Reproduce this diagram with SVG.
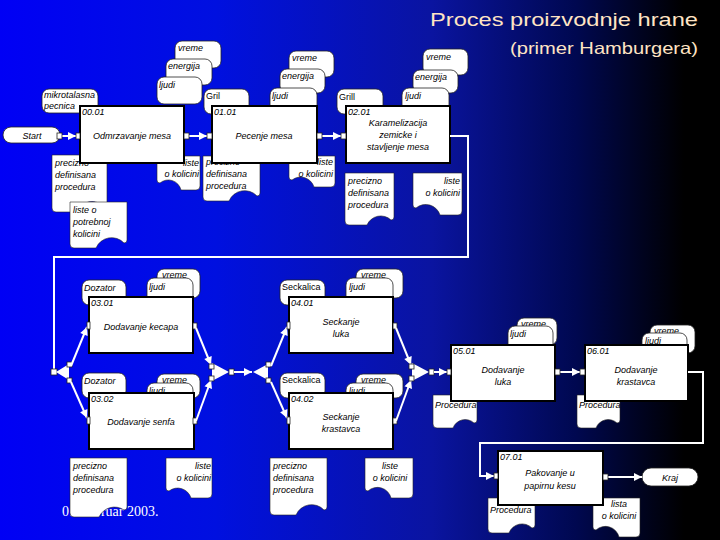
<svg xmlns="http://www.w3.org/2000/svg" width="720" height="540" viewBox="0 0 720 540">
<defs>
<linearGradient id="bg" x1="0" y1="0" x2="720" y2="0" gradientUnits="userSpaceOnUse">
<stop offset="0" stop-color="#0000f5"/>
<stop offset="0.3" stop-color="#0010e0"/>
<stop offset="0.6" stop-color="#0a14a0"/>
<stop offset="0.8" stop-color="#000850"/>
<stop offset="0.95" stop-color="#000000"/>
</linearGradient>
<marker id="arr" viewBox="0 0 10 10" refX="10" refY="5" markerWidth="9" markerHeight="8" markerUnits="userSpaceOnUse" orient="auto"><path d="M0,0 L10,5 L0,10 Z" fill="#fff"/></marker>
</defs>
<style>
.box{fill:#fff;stroke:#000;stroke-width:2}
.res{fill:#fff;stroke:#222;stroke-width:0.8}
.doc{fill:#fff;stroke:#222;stroke-width:0.6}
.term{fill:#fff;stroke:#222;stroke-width:0.8}
.t{font-family:"Liberation Sans",Arial,sans-serif;font-size:9px;font-style:italic;fill:#000}
.u{font-style:normal}
.m{text-anchor:middle}
.e{text-anchor:end}
.ln{fill:none;stroke:#fff;stroke-width:2}
.port{fill:#fff;stroke:#222;stroke-width:0.8}
.jn{fill:#fff;stroke:none}
.title{font-family:"Liberation Sans",Arial,sans-serif;fill:#ffe4c4}
</style>
<rect x="0" y="0" width="720" height="540" fill="url(#bg)"/>
<text class="title" x="430" y="26" font-size="19" textLength="268" lengthAdjust="spacingAndGlyphs">Proces proizvodnje hrane</text>
<text class="title" x="510" y="54" font-size="16.5" textLength="188" lengthAdjust="spacingAndGlyphs">(primer Hamburgera)</text>
<text x="62" y="516" font-family="'Liberation Serif','Times New Roman',serif" font-size="14" fill="#fff">01. februar 2003.</text>

<!-- resources row 1 -->
<g id="r-mikro"><rect class="res" x="42" y="89" width="56" height="24" rx="7"/><text class="t" x="44" y="98">mikrotalasna</text><text class="t" x="44" y="109">pecnica</text></g>
<g id="r-vreme1"><rect class="res" x="175" y="41" width="46" height="27" rx="7"/><text class="t" x="178" y="51">vreme</text></g>
<g id="r-energija1"><rect class="res" x="166" y="59" width="46" height="26" rx="7"/><text class="t" x="168" y="69">energija</text></g>
<g id="r-ljudi1"><rect class="res" x="157" y="77" width="45" height="27" rx="7"/><text class="t" x="159" y="88">ljudi</text></g>
<g id="r-gril1"><rect class="res" x="204" y="89" width="45" height="25" rx="7"/><text class="t u" x="206" y="99">Gril</text></g>
<g id="r-vreme2"><rect class="res" x="289" y="51" width="45" height="26" rx="7"/><text class="t" x="292" y="61">vreme</text></g>
<g id="r-energija2"><rect class="res" x="280" y="69" width="45" height="24" rx="7"/><text class="t" x="282" y="79">energija</text></g>
<g id="r-ljudi2"><rect class="res" x="270" y="88" width="47" height="25" rx="7"/><text class="t" x="272" y="99">ljudi</text></g>
<g id="r-gril2"><rect class="res" x="337" y="89" width="46" height="25" rx="7"/><text class="t u" x="339" y="100">Grill</text></g>
<g id="r-vreme3"><rect class="res" x="423" y="49" width="45" height="26" rx="7"/><text class="t" x="426" y="60">vreme</text></g>
<g id="r-energija3"><rect class="res" x="413" y="70" width="45" height="23" rx="7"/><text class="t" x="415" y="80">energija</text></g>
<g id="r-ljudi3"><rect class="res" x="402" y="88" width="47" height="25" rx="7"/><text class="t" x="405" y="99">ljudi</text></g>

<!-- resources row 2 -->
<g id="r-dozator1"><rect class="res" x="82" y="280" width="44" height="25" rx="7"/><text class="t" x="84" y="291">Dozator</text></g>
<g id="r-vreme4"><rect class="res" x="157" y="269" width="43" height="29" rx="7"/><text class="t" x="162" y="278">vreme</text></g>
<g id="r-ljudi4"><rect class="res" x="147" y="278" width="46" height="25" rx="7"/><text class="t" x="149" y="290">ljudi</text></g>
<g id="r-dozator2"><rect class="res" x="82" y="373" width="44" height="25" rx="7"/><text class="t" x="84" y="384">Dozator</text></g>
<g id="r-vreme5"><rect class="res" x="157" y="374" width="43" height="24" rx="7"/><text class="t" x="162" y="383">vreme</text></g>
<g id="r-ljudi5"><rect class="res" x="147" y="383" width="46" height="20" rx="7"/><text class="t" x="149" y="394">ljudi</text></g>
<g id="r-seckalica1"><rect class="res" x="280" y="280" width="45" height="25" rx="7"/><text class="t u" x="282" y="290">Seckalica</text></g>
<g id="r-vreme6"><rect class="res" x="356" y="269" width="47" height="29" rx="7"/><text class="t" x="361" y="278">vreme</text></g>
<g id="r-ljudi6"><rect class="res" x="346" y="278" width="47" height="25" rx="7"/><text class="t" x="349" y="290">ljudi</text></g>
<g id="r-seckalica2"><rect class="res" x="280" y="373" width="45" height="25" rx="7"/><text class="t u" x="282" y="383">Seckalica</text></g>
<g id="r-vreme7"><rect class="res" x="356" y="374" width="47" height="24" rx="7"/><text class="t" x="361" y="383">vreme</text></g>
<g id="r-ljudi7"><rect class="res" x="346" y="383" width="47" height="20" rx="7"/><text class="t" x="349" y="394">ljudi</text></g>
<g id="r-vreme8"><rect class="res" x="517" y="318" width="40" height="27" rx="7"/><text class="t" x="521" y="327">vreme</text></g>
<g id="r-ljudi8"><rect class="res" x="508" y="326" width="45" height="25" rx="7"/><text class="t" x="510" y="337">ljudi</text></g>
<g id="r-vreme9"><rect class="res" x="650" y="325" width="45" height="28" rx="7"/><text class="t" x="654" y="334">vreme</text></g>
<g id="r-ljudi9"><rect class="res" x="642" y="333" width="45" height="20" rx="7"/><text class="t" x="645" y="344">ljudi</text></g>

<!-- documents -->
<g id="d1"><path class="doc" d="M52,155 H107 V204 Q107,207 104,207 A16 16 0 0 0 77,212 H56 Q52,212 52,208 Z"/><text class="t" x="55" y="166">precizno</text><text class="t" x="55" y="178">definisana</text><text class="t" x="55" y="190">procedura</text></g>
<g id="d2"><path class="doc" d="M70,202 H127 V240 Q127,243 124,243 A17 17 0 0 0 96,248 H74 Q70,248 70,244 Z"/><text class="t" x="73" y="213">liste o</text><text class="t" x="73" y="225">potrebnoj</text><text class="t" x="73" y="237">kolicini</text></g>
<g id="d3"><path class="doc" d="M157,156 H200 V186 Q200,190 196,190 H181 A13 13 0 0 0 160,183 Q157,183 157,180 Z"/><text class="t e" x="199" y="166">liste</text><text class="t e" x="199" y="177">o kolicini</text></g>
<g id="d4"><path class="doc" d="M203,156 H260 V193 Q260,196 257,196 A17 17 0 0 0 229,201 H207 Q203,201 203,197 Z"/><text class="t" x="206" y="165">precizno</text><text class="t" x="206" y="177">definisana</text><text class="t" x="206" y="189">procedura</text></g>
<g id="d5"><path class="doc" d="M289,156 H335 V183 Q335,187 331,187 H314 A14 14 0 0 0 292,180 Q289,180 289,177 Z"/><text class="t e" x="333" y="165">liste</text><text class="t e" x="333" y="177">o kolicini</text></g>
<g id="d6"><path class="doc" d="M345,173 H394 V217 Q394,220 391,220 A15 15 0 0 0 367,225 H349 Q345,225 345,221 Z"/><text class="t" x="348" y="184">precizno</text><text class="t" x="348" y="196">definisana</text><text class="t" x="348" y="208">procedura</text></g>
<g id="d7"><path class="doc" d="M413,173 H462 V211 Q462,215 458,215 H440 A15 15 0 0 0 416,208 Q413,208 413,205 Z"/><text class="t e" x="460" y="184">liste</text><text class="t e" x="460" y="196">o kolicini</text></g>
<g id="d8"><path class="doc" d="M70,458 H127 V507 Q127,510 124,510 A17 17 0 0 0 99,517 H74 Q70,517 70,513 Z"/><text class="t" x="73" y="469">precizno</text><text class="t" x="73" y="481">definisana</text><text class="t" x="73" y="493">procedura</text></g>
<g id="d9"><path class="doc" d="M166,458 H212 V494 Q212,498 208,498 H191 A14 14 0 0 0 169,491 Q166,491 166,488 Z"/><text class="t e" x="211" y="469">liste</text><text class="t e" x="211" y="481">o kolicini</text></g>
<g id="d10"><path class="doc" d="M270,458 H327 V507 Q327,510 324,510 A17 17 0 0 0 296,515 H274 Q270,515 270,511 Z"/><text class="t" x="273" y="469">precizno</text><text class="t" x="273" y="481">definisana</text><text class="t" x="273" y="493">procedura</text></g>
<g id="d11"><path class="doc" d="M365,458 H413 V494 Q413,498 409,498 H391 A14 14 0 0 0 368,491 Q365,491 365,488 Z"/><text class="t m" x="390" y="469">liste</text><text class="t m" x="390" y="481">o kolicini</text></g>
<g id="d12"><path class="doc" d="M433,395 H477 V420 Q477,423 474,423 A13 13 0 0 0 453,428 H437 Q433,428 433,424 Z"/><text class="t" x="435" y="408">Procedura</text></g>
<g id="d13"><path class="doc" d="M577,395 H620 V420 Q620,423 617,423 A13 13 0 0 0 596,428 H581 Q577,428 577,424 Z"/><text class="t" x="579" y="408">Procedura</text></g>
<g id="d14"><path class="doc" d="M488,498 H535 V525 Q535,528 532,528 A14 14 0 0 0 509,533 H492 Q488,533 488,529 Z"/><text class="t" x="490" y="513">Procedura</text></g>
<g id="d15"><path class="doc" d="M593,498 H640 V533 Q640,537 636,537 H619 A14 14 0 0 0 596,530 Q593,530 593,527 Z"/><text class="t m" x="619" y="507">lista</text><text class="t m" x="619" y="519">o kolicini</text></g>

<!-- terminals -->
<g id="start"><rect class="term" x="3" y="127" width="57" height="16" rx="8"/><text class="t m" x="32" y="139">Start</text></g>
<g id="kraj"><rect class="term" x="642" y="468" width="56" height="18" rx="9"/><text class="t m" x="670" y="481">Kraj</text></g>

<!-- process boxes -->
<g id="p0001"><rect class="box" x="80" y="106" width="104" height="57"/><text class="t" x="82" y="115">00.01</text><text class="t m" x="132" y="139">Odmrzavanje mesa</text></g>
<g id="p0101"><rect class="box" x="212" y="106" width="105" height="57"/><text class="t" x="214" y="115">01.01</text><text class="t m" x="264" y="139">Pecenje mesa</text></g>
<g id="p0201"><rect class="box" x="346" y="106" width="104" height="57"/><text class="t" x="348" y="115">02.01</text><text class="t m" x="398" y="126">Karamelizacija</text><text class="t m" x="398" y="138">zemicke i</text><text class="t m" x="398" y="150">stavljenje mesa</text></g>
<g id="p0301"><rect class="box" x="89" y="297" width="104" height="56"/><text class="t" x="91" y="306">03.01</text><text class="t m" x="141" y="330">Dodavanje kecapa</text></g>
<g id="p0302"><rect class="box" x="89" y="393" width="105" height="56"/><text class="t" x="91" y="402">03.02</text><text class="t m" x="141" y="425">Dodavanje senfa</text></g>
<g id="p0401"><rect class="box" x="289" y="297" width="104" height="56"/><text class="t" x="291" y="306">04.01</text><text class="t m" x="341" y="325">Seckanje</text><text class="t m" x="341" y="337">luka</text></g>
<g id="p0402"><rect class="box" x="289" y="393" width="104" height="56"/><text class="t" x="291" y="402">04.02</text><text class="t m" x="341" y="420">Seckanje</text><text class="t m" x="341" y="432">krastavca</text></g>
<g id="p0501"><rect class="box" x="451" y="345" width="104" height="56"/><text class="t" x="453" y="354">05.01</text><text class="t m" x="503" y="373">Dodavanje</text><text class="t m" x="503" y="385">luka</text></g>
<g id="p0601"><rect class="box" x="585" y="345" width="103" height="56"/><text class="t" x="587" y="354">06.01</text><text class="t m" x="636" y="373">Dodavanje</text><text class="t m" x="636" y="385">krastavca</text></g>
<g id="p0701"><rect class="box" x="498" y="451" width="105" height="54"/><text class="t" x="500" y="460">07.01</text><text class="t m" x="550" y="476">Pakovanje u</text><text class="t m" x="550" y="489">papirnu kesu</text></g>

<!-- connectors -->
<g id="connectors">
<path class="ln" d="M62,136 H76" marker-end="url(#arr)"/>
<rect class="port" x="57" y="133" width="5" height="6"/><rect class="port" x="76" y="133" width="4" height="6"/>
<path class="ln" d="M189,136 H207" marker-end="url(#arr)"/>
<rect class="port" x="184" y="133" width="5" height="6"/><rect class="port" x="207" y="133" width="5" height="6"/>
<path class="ln" d="M322,136 H341" marker-end="url(#arr)"/>
<rect class="port" x="317" y="133" width="5" height="6"/><rect class="port" x="341" y="133" width="5" height="6"/>
<path class="ln" d="M450,136 H468 V257 H54 V369"/>
<rect class="port" x="51" y="369" width="6" height="6"/>
<path class="jn" d="M56,372 L69,364 L69,380 Z"/>
<rect class="port" x="67" y="362" width="5" height="5"/><rect class="port" x="67" y="378" width="5" height="5"/>
<path class="ln" d="M71,366 L87,327" marker-end="url(#arr)"/>
<path class="ln" d="M71,382 L87,418" marker-end="url(#arr)"/>
<rect class="port" x="87" y="322" width="3" height="7"/><rect class="port" x="87" y="417" width="3" height="7"/>
<rect class="port" x="193" y="323" width="4" height="6"/><rect class="port" x="193" y="418" width="4" height="6"/>
<path class="ln" d="M196,328 L211,365" marker-end="url(#arr)"/>
<path class="ln" d="M196,421 L211,380" marker-end="url(#arr)"/>
<path class="jn" d="M212,363 L212,381 L229,372 Z"/>
<rect class="port" x="209" y="364" width="5" height="5"/><rect class="port" x="209" y="376" width="5" height="5"/>
<rect class="port" x="229" y="369" width="5" height="6"/>
<path class="ln" d="M234,372 H252" marker-end="url(#arr)"/>
<path class="jn" d="M253,372 L268,364 L268,380 Z"/>
<rect class="port" x="266" y="362" width="5" height="5"/><rect class="port" x="266" y="378" width="5" height="5"/>
<path class="ln" d="M271,366 L287,327" marker-end="url(#arr)"/>
<path class="ln" d="M271,382 L287,418" marker-end="url(#arr)"/>
<rect class="port" x="287" y="322" width="3" height="7"/><rect class="port" x="287" y="417" width="3" height="7"/>
<rect class="port" x="393" y="323" width="4" height="6"/><rect class="port" x="393" y="418" width="4" height="6"/>
<path class="ln" d="M396,328 L411,365" marker-end="url(#arr)"/>
<path class="ln" d="M396,421 L411,380" marker-end="url(#arr)"/>
<path class="jn" d="M412,363 L412,381 L429,372 Z"/>
<rect class="port" x="409" y="364" width="5" height="5"/><rect class="port" x="409" y="376" width="5" height="5"/>
<rect class="port" x="429" y="369" width="5" height="6"/>
<path class="ln" d="M434,372 H447" marker-end="url(#arr)"/>
<rect class="port" x="447" y="369" width="4" height="6"/>
<path class="ln" d="M560,372 H580" marker-end="url(#arr)"/>
<rect class="port" x="555" y="369" width="5" height="6"/><rect class="port" x="580" y="369" width="5" height="6"/>
<path class="ln" d="M688,372 H703 V443 H480 V476 H494" marker-end="url(#arr)"/>
<rect class="port" x="494" y="473" width="4" height="6"/>
<path class="ln" d="M608,477 H642" marker-end="url(#arr)"/>
<rect class="port" x="603" y="474" width="5" height="6"/>
</g>
</svg>
